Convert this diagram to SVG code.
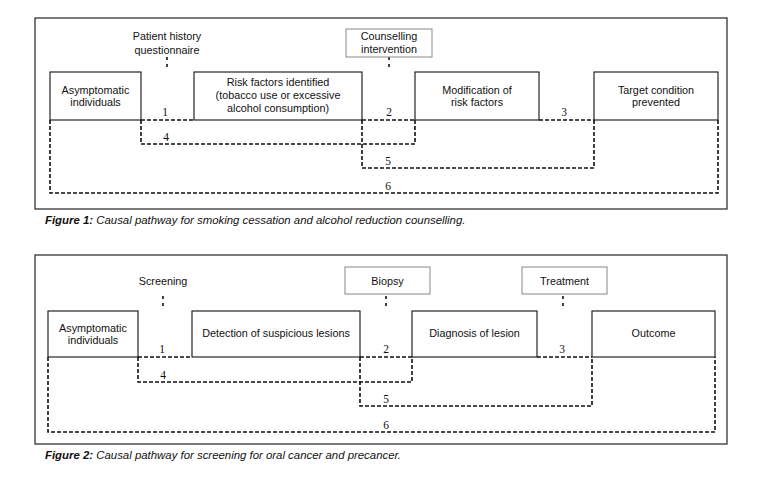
<svg xmlns="http://www.w3.org/2000/svg" width="757" height="482" viewBox="0 0 757 482">
<style>
.frame{fill:none;stroke:#333;stroke-width:1.3}
.box{fill:#fff;stroke:#111;stroke-width:1.1}
.gbox{fill:#fff;stroke:#888;stroke-width:1}
.t{font-family:"Liberation Sans",Arial,sans-serif;font-size:10.8px;fill:#111;text-anchor:middle}
.n{font-family:"Liberation Serif","Times New Roman",serif;font-size:11.5px;fill:#111;text-anchor:middle}
.d{fill:none;stroke:#111;stroke-width:1.6;stroke-dasharray:4,2}
.tick{fill:none;stroke:#111;stroke-width:1.6;stroke-dasharray:3,4}
.cap{font-family:"Liberation Sans",Arial,sans-serif;font-size:11.4px;font-style:italic;fill:#111}
</style>
<rect x="0" y="0" width="757" height="482" fill="#fff"/>

<!-- Figure 1 -->
<rect class="frame" x="35" y="18" width="692" height="191"/>
<g id="f1-connectors">
<path class="d" d="M141,120H194"/>
<path class="d" d="M362,120H415"/>
<path class="d" d="M539,120H594"/>
<path class="d" d="M141,120V144H415V120"/>
<path class="d" d="M362,120V168H594V120"/>
<path class="d" d="M50,120V193H718V120"/>
<path class="tick" d="M167,57V71"/>
<path class="tick" d="M389,57V71"/>
<text class="n" x="165" y="116">1</text>
<text class="n" x="389" y="116">2</text>
<text class="n" x="564" y="116">3</text>
<text class="n" x="166" y="141">4</text>
<text class="n" x="388" y="165">5</text>
<text class="n" x="388" y="190">6</text>
</g>
<g id="f1-asymptomatic">
<rect class="box" x="50" y="72" width="91" height="48"/>
<text class="t" x="95.5" y="94">Asymptomatic</text>
<text class="t" x="95.5" y="106">individuals</text>
</g>
<g id="f1-risk">
<rect class="box" x="194" y="72" width="168" height="48"/>
<text class="t" x="278" y="86">Risk factors identified</text>
<text class="t" x="278" y="99">(tobacco use or excessive</text>
<text class="t" x="278" y="112">alcohol consumption)</text>
</g>
<g id="f1-modification">
<rect class="box" x="415" y="72" width="124" height="48"/>
<text class="t" x="477" y="94">Modification of</text>
<text class="t" x="477" y="106">risk factors</text>
</g>
<g id="f1-target">
<rect class="box" x="594" y="72" width="124" height="48"/>
<text class="t" x="656" y="94">Target condition</text>
<text class="t" x="656" y="106">prevented</text>
</g>
<g id="f1-patient">
<text class="t" x="167" y="40">Patient history</text>
<text class="t" x="167" y="54">questionnaire</text>
</g>
<g id="f1-counselling">
<rect class="gbox" x="346" y="29" width="86" height="28"/>
<text class="t" x="389" y="40">Counselling</text>
<text class="t" x="389" y="53">intervention</text>
</g>
<text class="cap" x="45" y="224"><tspan font-weight="bold">Figure 1:</tspan>  Causal pathway for smoking cessation and alcohol reduction counselling.</text>

<!-- Figure 2 -->
<rect class="frame" x="35" y="255" width="692" height="189"/>
<g id="f2-connectors">
<path class="d" d="M138,357H192"/>
<path class="d" d="M360,357H412"/>
<path class="d" d="M537,357H592"/>
<path class="d" d="M138,357V382H412V357"/>
<path class="d" d="M360,357V406H592V357"/>
<path class="d" d="M48,357V432H715V357"/>
<path class="tick" d="M163,296V310"/>
<path class="tick" d="M386,296V310"/>
<path class="tick" d="M563,296V310"/>
<text class="n" x="162" y="353">1</text>
<text class="n" x="386" y="353">2</text>
<text class="n" x="562" y="353">3</text>
<text class="n" x="163" y="379">4</text>
<text class="n" x="386" y="403">5</text>
<text class="n" x="386" y="429">6</text>
</g>
<g id="f2-asymptomatic">
<rect class="box" x="48" y="311" width="90" height="46"/>
<text class="t" x="93" y="332">Asymptomatic</text>
<text class="t" x="93" y="344">individuals</text>
</g>
<g id="f2-detection">
<rect class="box" x="192" y="311" width="168" height="46"/>
<text class="t" x="276" y="337">Detection of suspicious lesions</text>
</g>
<g id="f2-diagnosis">
<rect class="box" x="412" y="311" width="125" height="46"/>
<text class="t" x="474.5" y="337">Diagnosis of lesion</text>
</g>
<g id="f2-outcome">
<rect class="box" x="592" y="311" width="123" height="46"/>
<text class="t" x="653.5" y="337">Outcome</text>
</g>
<g id="f2-screening">
<text class="t" x="163" y="285">Screening</text>
</g>
<g id="f2-biopsy">
<rect class="gbox" x="345" y="267" width="85" height="27"/>
<text class="t" x="387.5" y="285">Biopsy</text>
</g>
<g id="f2-treatment">
<rect class="gbox" x="522" y="267" width="85" height="27"/>
<text class="t" x="564.5" y="285">Treatment</text>
</g>
<text class="cap" x="45" y="459"><tspan font-weight="bold">Figure 2:</tspan>  Causal pathway for screening for oral cancer and precancer.</text>
</svg>
